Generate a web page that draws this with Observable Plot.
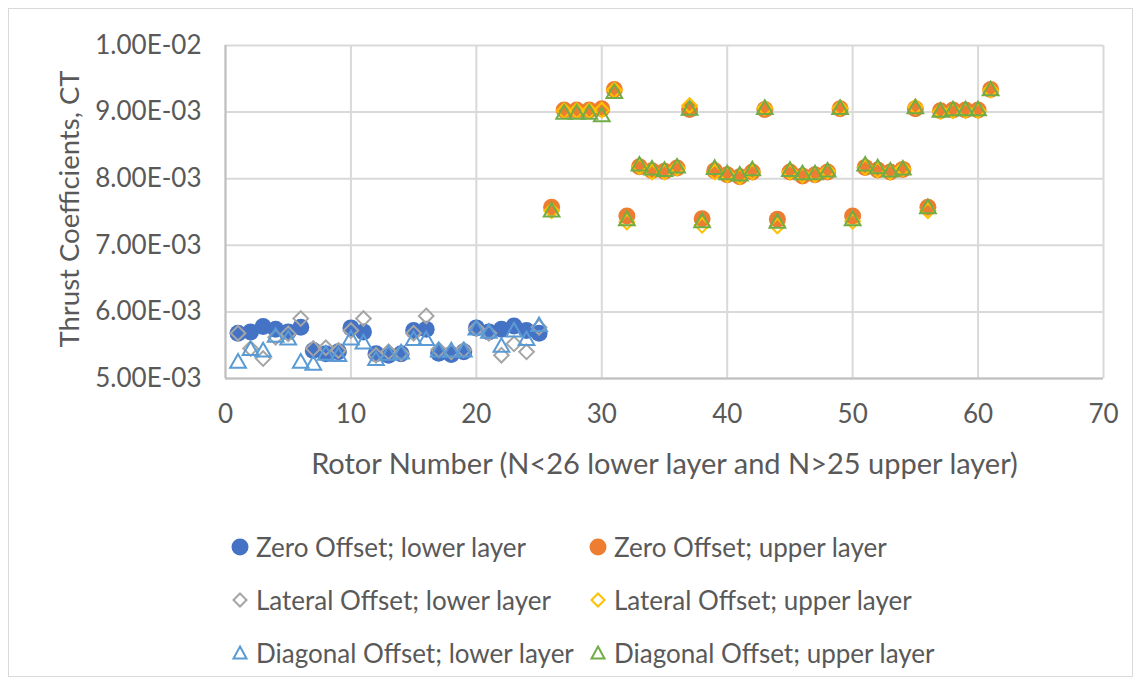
<!DOCTYPE html>
<html>
<head>
<meta charset="utf-8">
<script src="https://cdn.jsdelivr.net/npm/d3@7"></script>
<script src="https://cdn.jsdelivr.net/npm/@observablehq/plot@0.6"></script>
<style>
  html, body { margin: 0; padding: 0; background: #ffffff; }
  body { width: 1143px; height: 687px; position: relative; overflow: hidden; font-family: Lato, "Open Sans", sans-serif; }
  #frame { position: absolute; left: 8px; top: 8px; width: 1125px; height: 669px; border: 1.5px solid #d9d9d9; box-sizing: border-box; }
  #chart { position: absolute; left: 0; top: 0; }
  .leg { position: absolute; display: flex; align-items: center; font-size: 26px; color: #595959; white-space: nowrap; }
  .leg svg { margin-right: 6px; }
</style>
</head>
<body>
<div id="frame"></div>
<div id="chart"></div>
<div id="legend"></div>
<script>
// ---- data ----
const rotorLower = [1,2,3,4,5,6,7,8,9,10,11,12,13,14,15,16,17,18,19,20,21,22,23,24,25];
const rotorUpper = [26,27,28,29,30,31,32,33,34,35,36,37,38,39,40,41,42,43,44,45,46,47,48,49,50,51,52,53,54,55,56,57,58,59,60,61];

const zeroLower = [5.68e-3,5.70e-3,5.78e-3,5.74e-3,5.70e-3,5.77e-3,5.42e-3,5.37e-3,5.40e-3,5.76e-3,5.70e-3,5.37e-3,5.35e-3,5.37e-3,5.72e-3,5.74e-3,5.38e-3,5.36e-3,5.40e-3,5.76e-3,5.70e-3,5.74e-3,5.79e-3,5.72e-3,5.68e-3];
const lateralLower = [5.68e-3,5.45e-3,5.30e-3,5.62e-3,5.67e-3,5.90e-3,5.45e-3,5.46e-3,5.42e-3,5.72e-3,5.90e-3,5.35e-3,5.40e-3,5.38e-3,5.68e-3,5.94e-3,5.43e-3,5.40e-3,5.43e-3,5.75e-3,5.68e-3,5.35e-3,5.52e-3,5.40e-3,5.77e-3];
const diagonalLower = [5.23e-3,5.42e-3,5.40e-3,5.62e-3,5.58e-3,5.23e-3,5.20e-3,5.35e-3,5.33e-3,5.58e-3,5.52e-3,5.27e-3,5.35e-3,5.37e-3,5.57e-3,5.57e-3,5.40e-3,5.40e-3,5.40e-3,5.73e-3,5.68e-3,5.47e-3,5.70e-3,5.57e-3,5.78e-3];

const zeroUpper = [7.57e-3,9.03e-3,9.03e-3,9.03e-3,9.05e-3,9.34e-3,7.44e-3,8.18e-3,8.12e-3,8.11e-3,8.16e-3,9.04e-3,7.40e-3,8.12e-3,8.06e-3,8.03e-3,8.10e-3,9.04e-3,7.39e-3,8.10e-3,8.04e-3,8.06e-3,8.10e-3,9.05e-3,7.44e-3,8.17e-3,8.13e-3,8.10e-3,8.14e-3,9.05e-3,7.57e-3,9.02e-3,9.03e-3,9.03e-3,9.03e-3,9.34e-3];
const lateralUpper = [7.52e-3,9.02e-3,9.02e-3,9.02e-3,9.03e-3,9.33e-3,7.35e-3,8.18e-3,8.10e-3,8.10e-3,8.16e-3,9.10e-3,7.30e-3,8.10e-3,8.06e-3,8.03e-3,8.10e-3,9.06e-3,7.29e-3,8.10e-3,8.05e-3,8.06e-3,8.11e-3,9.06e-3,7.36e-3,8.17e-3,8.13e-3,8.10e-3,8.15e-3,9.08e-3,7.52e-3,9.01e-3,9.02e-3,9.02e-3,9.02e-3,9.33e-3];
const diagonalUpper = [7.50e-3,8.97e-3,8.97e-3,8.97e-3,8.93e-3,9.28e-3,7.37e-3,8.19e-3,8.13e-3,8.11e-3,8.16e-3,9.03e-3,7.34e-3,8.14e-3,8.06e-3,8.04e-3,8.12e-3,9.04e-3,7.33e-3,8.11e-3,8.06e-3,8.06e-3,8.10e-3,9.04e-3,7.37e-3,8.19e-3,8.15e-3,8.10e-3,8.13e-3,9.05e-3,7.55e-3,9.00e-3,9.02e-3,9.02e-3,9.02e-3,9.32e-3];

const xTicks = [0,10,20,30,40,50,60,70];
const yTicks = [5e-3,6e-3,7e-3,8e-3,9e-3,1e-2];

const seriesNames = [
  "Zero Offset; lower layer", "Zero Offset; upper layer",
  "Lateral Offset; lower layer", "Lateral Offset; upper layer",
  "Diagonal Offset; lower layer", "Diagonal Offset; upper layer"
];
const seriesColors = ["#4472C4","#ED7D31","#A5A5A5","#FFC000","#5B9BD5","#70AD47"];
const xLabel = "Rotor Number (N<26 lower layer and N>25 upper layer)";
const yLabel = "Thrust Coefficients, CT";

// ---- build tables ----
const pair = (xs, ys) => xs.map((n, i) => ({n, ct: ys[i]}));
const sets = [
  pair(rotorLower, zeroLower), pair(rotorUpper, zeroUpper),
  pair(rotorLower, lateralLower), pair(rotorUpper, lateralUpper),
  pair(rotorLower, diagonalLower), pair(rotorUpper, diagonalUpper)
];

const sci = d => {
  const [m, e] = d.toExponential(2).toUpperCase().split("E");
  const sign = e[0] === "-" ? "-" : "+";
  return m + "E" + sign + String(Math.abs(+e)).padStart(2, "0");
};

const dotFor = (i) => {
  const kind = Math.floor(i / 2);
  if (kind === 0) return Plot.dot(sets[i], {x: "n", y: "ct", r: 8.5, symbol: "circle", fill: seriesColors[i], stroke: "none"});
  if (kind === 1) return Plot.dot(sets[i], {x: "n", y: "ct", r: 6.6, symbol: "diamond2", fill: "none", stroke: seriesColors[i], strokeWidth: 2});
  return Plot.dot(sets[i], {x: "n", y: "ct", r: 7.5, symbol: "triangle2", fill: "none", stroke: seriesColors[i], strokeWidth: 2});
};

const chart = Plot.plot({
  width: 1143,
  height: 480,
  marginLeft: 225,
  marginRight: 40,
  marginTop: 45,
  marginBottom: 102,
  style: {fontFamily: "Lato, 'Open Sans', sans-serif", fontSize: "26px", color: "#595959", background: "transparent", overflow: "visible"},
  x: {domain: [0, 70]},
  y: {domain: [5e-3, 1e-2]},
  marks: [
    Plot.gridX(xTicks, {stroke: "#d9d9d9", strokeOpacity: 1, strokeWidth: 2}),
    Plot.gridY(yTicks, {stroke: "#d9d9d9", strokeOpacity: 1, strokeWidth: 2}),
    Plot.ruleX([0], {stroke: "#bfbfbf", strokeWidth: 2}),
    Plot.ruleY([5e-3], {stroke: "#bfbfbf", strokeWidth: 2}),
    Plot.axisX({ticks: xTicks, tickSize: 0, tickPadding: 26, label: null, fontSize: 26, fill: "#595959"}),
    Plot.axisY({ticks: yTicks, tickSize: 0, tickPadding: 24, tickFormat: sci, label: null, fontSize: 26, fill: "#595959"}),
    Plot.text([xLabel], {frameAnchor: "bottom", dy: 95, fontSize: 29, fill: "#595959", text: d => d}),
    Plot.text([yLabel], {frameAnchor: "left", textAnchor: "middle", dx: -155, dy: -3, rotate: -90, fontSize: 27.5, fill: "#595959", text: d => d}),
    ...[0,1,2,3,4,5].map(dotFor)
  ]
});
document.getElementById("chart").appendChild(chart);

// ---- legend ----
const legend = document.getElementById("legend");
const legPos = [
  {x: 240, y: 547}, {x: 598, y: 547},
  {x: 240, y: 600}, {x: 598, y: 600},
  {x: 240, y: 653}, {x: 598, y: 653}
];
seriesNames.forEach((name, i) => {
  const kind = Math.floor(i / 2);
  const item = document.createElement("div");
  item.className = "leg";
  item.style.left = (legPos[i].x - 10) + "px";
  item.style.top = (legPos[i].y - 16) + "px";
  item.style.height = "32px";
  let shape;
  if (kind === 0) shape = `<circle cx="10" cy="10" r="8.5" fill="${seriesColors[i]}"/>`;
  else if (kind === 1) shape = `<path d="M10,3.5L16.5,10L10,16.5L3.5,10Z" fill="none" stroke="${seriesColors[i]}" stroke-width="2"/>`;
  else shape = `<path d="M10,3.5L16.5,15.5L3.5,15.5Z" fill="none" stroke="${seriesColors[i]}" stroke-width="2"/>`;
  item.innerHTML = `<svg width="20" height="20" viewBox="0 0 20 20">${shape}</svg><span>${name}</span>`;
  legend.appendChild(item);
});
</script>
</body>
</html>
